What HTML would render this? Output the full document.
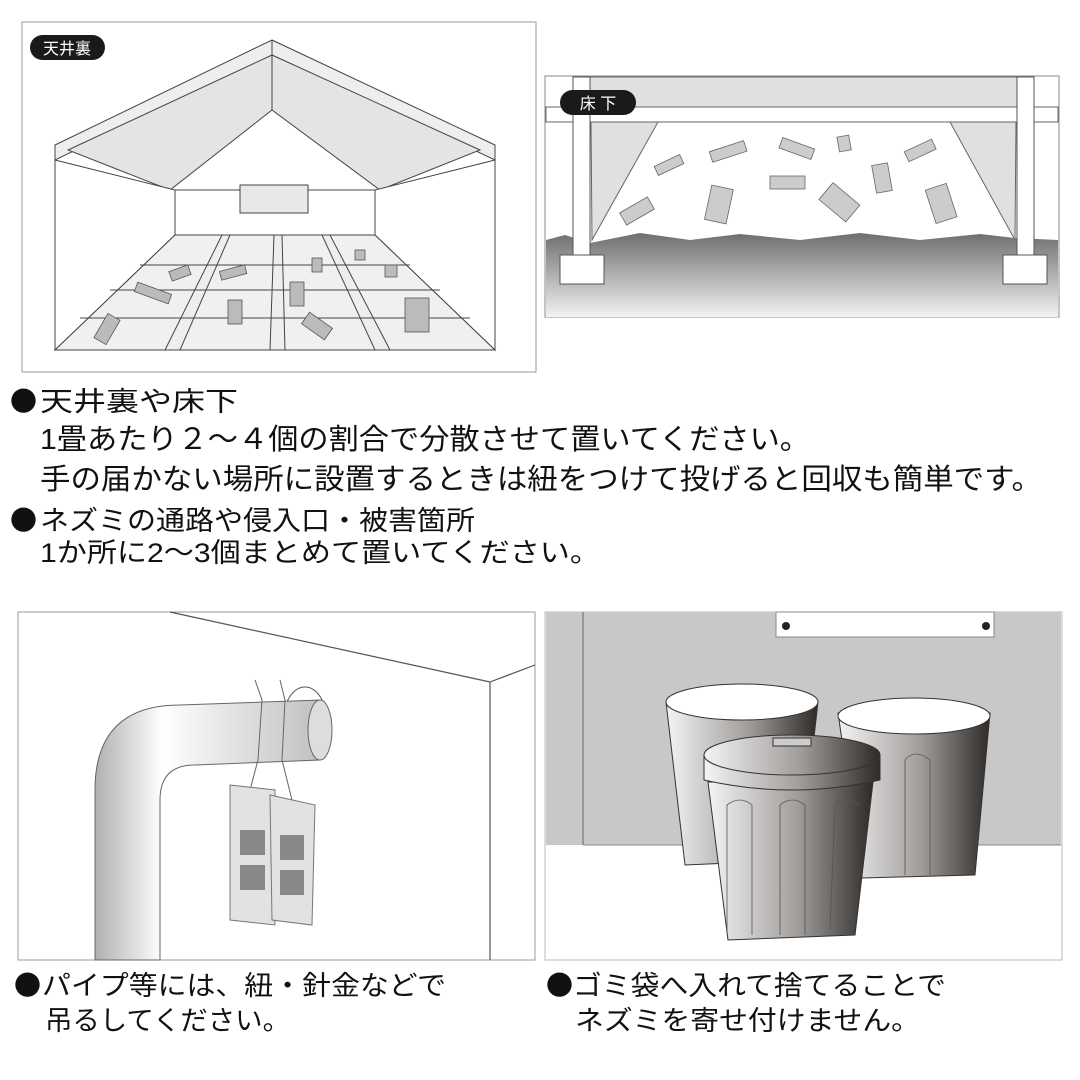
<!DOCTYPE html>
<html><head><meta charset="utf-8"><style>
html,body{margin:0;padding:0;background:#fff}
svg{display:block}
text{font-family:"Liberation Sans","Noto Sans CJK JP",sans-serif;fill:#111}
.b{font-family:"Noto Sans CJK JP",sans-serif}
</style></head><body>
<svg width="1080" height="1080" viewBox="0 0 1080 1080" xmlns="http://www.w3.org/2000/svg">
<defs>
<linearGradient id="gnd" x1="0" y1="0" x2="0" y2="1"><stop offset="0" stop-color="#6e6e6e"/><stop offset="1" stop-color="#f2f2f2"/></linearGradient>
<linearGradient id="can" x1="0" y1="0" x2="1" y2="0"><stop offset="0" stop-color="#f4f4f4"/><stop offset="0.55" stop-color="#a09c9a"/><stop offset="1" stop-color="#2e2a28"/></linearGradient>
<linearGradient id="pipe" x1="0" y1="0" x2="1" y2="0"><stop offset="0" stop-color="#b0b0b0"/><stop offset="0.3" stop-color="#ffffff"/><stop offset="1" stop-color="#c0c0c0"/></linearGradient>
</defs>

<rect x="22" y="22" width="514" height="350" fill="#fff" stroke="#999" stroke-width="1"/>
<g stroke="#444" stroke-width="1" fill="#fff">
<polygon points="272,40 495,145 495,160 272,55 55,160 55,145" fill="#eee"/>
<polygon points="272,55 480,150 380,190 272,110 170,190 68,150" fill="#e4e4e4"/>
<polygon points="175,190 375,190 375,235 175,235" fill="#fff"/>
<polygon points="55,160 175,190 175,235 55,350" fill="#fff"/>
<polygon points="495,160 375,190 375,235 495,350" fill="#fff"/>
<polygon points="175,235 375,235 495,350 55,350" fill="#f0f0f0"/>
<rect x="240" y="185" width="68" height="28" fill="#e8e8e8"/>
<line x1="272" y1="40" x2="272" y2="110"/>
<polygon points="165,350 180,350 230,235 222,235" fill="#eee"/>
<polygon points="270,350 285,350 282,235 274,235" fill="#eee"/>
<polygon points="375,350 390,350 330,235 322,235" fill="#eee"/>
<line x1="140" y1="265" x2="410" y2="265"/>
<line x1="110" y1="290" x2="440" y2="290"/>
<line x1="80" y1="318" x2="470" y2="318"/>
</g>
<g fill="#bbb" stroke="#555" stroke-width="0.8">
<rect x="170" y="268" width="20" height="10" transform="rotate(-20 180 273)"/>
<rect x="220" y="268" width="26" height="9" transform="rotate(-15 233 272)"/>
<rect x="135" y="288" width="36" height="10" transform="rotate(20 153 293)"/>
<rect x="290" y="282" width="14" height="24"/>
<rect x="228" y="300" width="14" height="24"/>
<rect x="100" y="315" width="14" height="28" transform="rotate(30 107 329)"/>
<rect x="310" y="312" width="14" height="28" transform="rotate(-55 317 326)"/>
<rect x="405" y="298" width="24" height="34"/>
<rect x="312" y="258" width="10" height="14"/>
<rect x="355" y="250" width="10" height="10"/>
<rect x="385" y="265" width="12" height="12"/>
</g>
<rect x="30" y="35" width="75" height="25" rx="12.5" fill="#1a1a1a"/>
<text x="67" y="54" font-size="16" style="fill:#fff" text-anchor="middle">天井裏</text>

<rect x="545" y="76" width="514" height="241" fill="#fff" stroke="#888"/>
<rect x="590" y="77" width="427" height="30" fill="#e0e0e0" stroke="#666"/>
<rect x="546" y="107" width="512" height="15" fill="#fff" stroke="#666"/>
<polygon points="591,122 658,122 592,240" fill="#e0e0e0" stroke="#666"/>
<polygon points="1016,122 950,122 1015,240" fill="#e0e0e0" stroke="#666"/>
<path d="M546,240 L565,235 L590,243 L640,233 L690,240 L740,234 L800,240 L860,233 L920,240 L980,234 L1015,238 L1058,240 L1058,317 L546,317 Z" fill="url(#gnd)"/>
<rect x="573" y="77" width="17" height="178" fill="#fff" stroke="#555"/>
<rect x="560" y="255" width="44" height="29" fill="#fff" stroke="#555"/>
<rect x="1017" y="77" width="17" height="178" fill="#fff" stroke="#555"/>
<rect x="1003" y="255" width="44" height="29" fill="#fff" stroke="#555"/>
<g fill="#ccc" stroke="#666" stroke-width="0.8">
<rect x="655" y="160" width="28" height="10" transform="rotate(-25 669 165)"/>
<rect x="710" y="146" width="36" height="11" transform="rotate(-18 728 151)"/>
<rect x="780" y="143" width="34" height="11" transform="rotate(20 797 148)"/>
<rect x="838" y="136" width="12" height="15" transform="rotate(-10 844 143)"/>
<rect x="905" y="145" width="30" height="11" transform="rotate(-25 920 150)"/>
<rect x="770" y="176" width="35" height="13"/>
<rect x="874" y="164" width="16" height="28" transform="rotate(-10 882 178)"/>
<rect x="630" y="195" width="14" height="32" transform="rotate(60 637 211)"/>
<rect x="708" y="187" width="22" height="35" transform="rotate(12 719 204)"/>
<rect x="828" y="185" width="22" height="35" transform="rotate(-50 839 202)"/>
<rect x="930" y="186" width="22" height="35" transform="rotate(-18 941 203)"/>
</g>
<rect x="560" y="90" width="76" height="25" rx="12.5" fill="#1a1a1a"/>
<text x="598" y="109" font-size="16" style="fill:#fff" text-anchor="middle">床 下</text>

<text x="10" y="411" font-size="27"><tspan class="b">●</tspan><tspan x="40" textLength="198" lengthAdjust="spacingAndGlyphs">天井裏や床下</tspan></text>
<text x="40" y="449" font-size="29" textLength="770" lengthAdjust="spacingAndGlyphs">1畳あたり２～４個の割合で分散させて置いてください。</text>
<text x="40" y="489" font-size="29" textLength="1002" lengthAdjust="spacingAndGlyphs">手の届かない場所に設置するときは紐をつけて投げると回収も簡単です。</text>
<text x="10" y="530" font-size="27"><tspan class="b">●</tspan><tspan x="40" textLength="435" lengthAdjust="spacingAndGlyphs">ネズミの通路や侵入口・被害箇所</tspan></text>
<text x="40" y="562" font-size="27" textLength="560" lengthAdjust="spacingAndGlyphs">1か所に2～3個まとめて置いてください。</text>

<rect x="18" y="612" width="517" height="348" fill="#fff" stroke="#999"/>
<g stroke="#555" fill="none" stroke-width="1.2">
<line x1="170" y1="612" x2="490" y2="682"/>
<line x1="490" y1="682" x2="535" y2="665"/>
<line x1="490" y1="682" x2="490" y2="960"/>
</g>
<ellipse cx="305" cy="722" rx="22" ry="35" fill="#fff" stroke="#555"/>
<path d="M95,960 L95,790 Q95,705 180,705 L320,700 L320,760 L195,765 Q160,765 160,800 L160,960 Z" fill="url(#pipe)" stroke="#666"/>
<ellipse cx="320" cy="730" rx="12" ry="30" fill="#ddd" stroke="#666"/>
<g stroke="#666" fill="none">
<path d="M255,680 L262,700 L258,760 L250,790"/>
<path d="M280,680 L285,700 L282,760 L292,800"/>
</g>
<g stroke="#777" fill="#e2e2e2">
<polygon points="230,785 275,790 275,925 230,920"/>
<polygon points="270,795 315,805 312,925 272,920"/>
</g>
<g fill="#888"><rect x="240" y="830" width="25" height="25"/><rect x="240" y="865" width="25" height="25"/><rect x="280" y="835" width="24" height="25"/><rect x="280" y="870" width="24" height="25"/></g>

<rect x="545" y="612" width="517" height="348" fill="#fff" stroke="#bbb"/>
<rect x="546" y="612" width="515" height="233" fill="#c8c8c8"/>
<line x1="583" y1="612" x2="583" y2="845" stroke="#666"/>
<line x1="583" y1="845" x2="1061" y2="845" stroke="#888"/>
<rect x="776" y="612" width="218" height="25" fill="#fff" stroke="#888"/>
<circle cx="786" cy="626" r="4" fill="#222"/><circle cx="986" cy="626" r="4" fill="#222"/>
<g stroke="#333">
<path d="M666,702 L818,702 L800,860 L685,865 Z" fill="url(#can)"/>
<ellipse cx="742" cy="702" rx="76" ry="18" fill="#fff"/>
<path d="M838,713 L990,713 L975,875 L862,878 Z" fill="url(#can)"/>
<ellipse cx="914" cy="716" rx="76" ry="18" fill="#fff"/>
<path d="M708,782 L873,782 L855,935 L728,940 Z" fill="url(#can)"/>
<path d="M704,755 L880,755 L880,780 Q792,800 704,780 Z" fill="url(#can)"/>
<ellipse cx="792" cy="755" rx="88" ry="20" fill="url(#can)"/>
<rect x="773" y="738" width="38" height="8" fill="#ccc"/>
</g>
<g stroke="#555" fill="none" stroke-width="0.8">
<path d="M727,930 L727,805 Q740,795 752,805 L752,935"/>
<path d="M780,935 L780,805 Q792,795 805,805 L805,935"/>
<path d="M830,930 L835,805 Q845,795 860,805"/>
<path d="M905,875 L905,760 Q915,748 930,760 L930,875"/>
</g>

<text x="14" y="995" font-size="27"><tspan class="b">●</tspan><tspan x="42" textLength="404" lengthAdjust="spacingAndGlyphs">パイプ等には、紐・針金などで</tspan></text>
<text x="45" y="1030" font-size="27" textLength="245" lengthAdjust="spacingAndGlyphs">吊るしてください。</text>
<text x="546" y="995" font-size="27"><tspan class="b">●</tspan><tspan x="573" textLength="373" lengthAdjust="spacingAndGlyphs">ゴミ袋へ入れて捨てることで</tspan></text>
<text x="575" y="1030" font-size="27" textLength="345" lengthAdjust="spacingAndGlyphs">ネズミを寄せ付けません。</text>
</svg>
</body></html>
